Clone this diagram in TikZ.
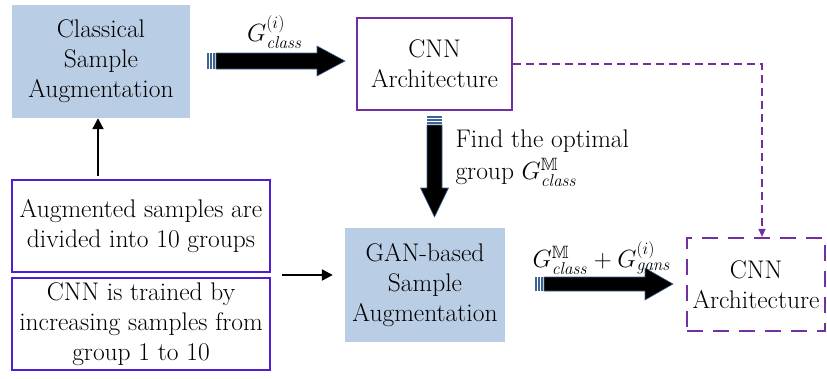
\documentclass[tikz,border=0pt]{standalone}
\usepackage{amssymb}
\usetikzlibrary{arrows.meta}
\definecolor{boxblue}{RGB}{185,205,229}
\definecolor{cnnpurple}{RGB}{112,48,160}
\definecolor{violetline}{RGB}{80,30,210}
\definecolor{arrowedge}{RGB}{60,100,150}
\tikzset{
  txt/.style={font=\fontsize{25.5}{30}\selectfont, align=center},
  fillbox/.style={txt, fill=boxblue, draw=none, minimum width=#1},
  cnnbox/.style={txt, draw=cnnpurple, line width=2.2pt, minimum width=155pt, minimum height=92pt},
  dashbox/.style={txt, draw=cnnpurple, line width=2.2pt, dash pattern=on 16pt off 10pt, minimum width=138pt, minimum height=93pt},
  stepbox/.style={txt, draw=violetline, line width=2.4pt, minimum width=258pt, minimum height=92pt, inner sep=2pt},
  thin arrow/.style={line width=2.2pt, -{Triangle[length=11pt,width=11pt]}},
  dash link/.style={cnnpurple, line width=1.3pt, dash pattern=on 8pt off 5pt, -{Triangle[length=8pt,width=7pt]}},
  lbl/.style={font=\fontsize{25.5}{30}\selectfont},
}
% block arrow: tail x, tip x, y, body half-height, head half-height, head length
\newcommand{\blockarrowH}[6]{%
  \foreach \k in {0,1,2}{\fill[arrowedge] (#1+\k*3,#3-#4) rectangle (#1+\k*3+2,#3+#4);}
  \filldraw[fill=black, draw=arrowedge, line width=0.6pt]
    (#1+9,#3-#4) -- (#2-#6,#3-#4) -- (#2-#6,#3-#5) -- (#2,#3) -- (#2-#6,#3+#5)
    -- (#2-#6,#3+#4) -- (#1+9,#3+#4) -- cycle;}
% vertical block arrow: x, tail y, tip y, body half-width, head half-width, head length
\newcommand{\blockarrowV}[6]{%
  \foreach \k in {0,1,2}{\fill[arrowedge] (#1-#4,#2+\k*3) rectangle (#1+#4,#2+\k*3+2);}
  \filldraw[fill=black, draw=arrowedge, line width=0.6pt]
    (#1-#4,#2+9) -- (#1-#4,#3-#6) -- (#1-#5,#3-#6) -- (#1,#3) -- (#1+#5,#3-#6)
    -- (#1+#4,#3-#6) -- (#1+#4,#2+9) -- cycle;}
\begin{document}
\begin{tikzpicture}[x=1pt,y=-1pt]
\useasboundingbox (0,0) rectangle (827,378);

\node[fillbox=178pt, minimum height=113pt] (cls) at (101,61.5) {Classical\\Sample\\Augmentation};
\node[cnnbox] (cnn1) at (434.5,64) {CNN\\Architecture};
\node[fillbox=160pt, minimum height=114pt] (gan) at (425,285) {GAN-based\\Sample\\Augmentation};
\node[dashbox] (cnn2) at (756,284.5) {CNN\\Architecture};
\node[stepbox] (aug) at (141,226) {Augmented samples are\\divided into 10 groups};
\node[stepbox] (trn) at (141,324) {CNN is trained by\\increasing samples from\\group 1 to 10};

% thin connectors
\draw[thin arrow] (aug.north -| 98,0) ++(0,-3) -- (cls.south -| 98,0);
\coordinate (tstart) at (282,275);
\draw[thin arrow] (tstart) -- (tstart -| gan.west) [shorten >=12pt];
\coordinate (bend) at (762,64);
\draw[dash link] (cnn1.east) -- (bend) -- (bend |- cnn2.north);

% block arrows
\blockarrowH{207}{345}{61}{8}{15}{28}
\blockarrowV{434.5}{116}{217}{7.5}{14}{29}
\blockarrowH{535}{673}{284}{7}{16}{28}

% labels
\node[lbl] (l1) at (275,32) {$G^{(i)}_{\mathit{class}}$};
\node[lbl, align=left, anchor=north west, font=\fontsize{25.5}{32}\selectfont] (l2) at (452,126)
  {Find the optimal\\group $G^{\mathbb{M}}_{\mathit{class}}$};
\node[lbl] (l3) at (602,258)
  {$G^{\mathbb{M}}_{\mathit{class}}+G^{(i)}_{\mathit{gans}}$};
\end{tikzpicture}
\end{document}
